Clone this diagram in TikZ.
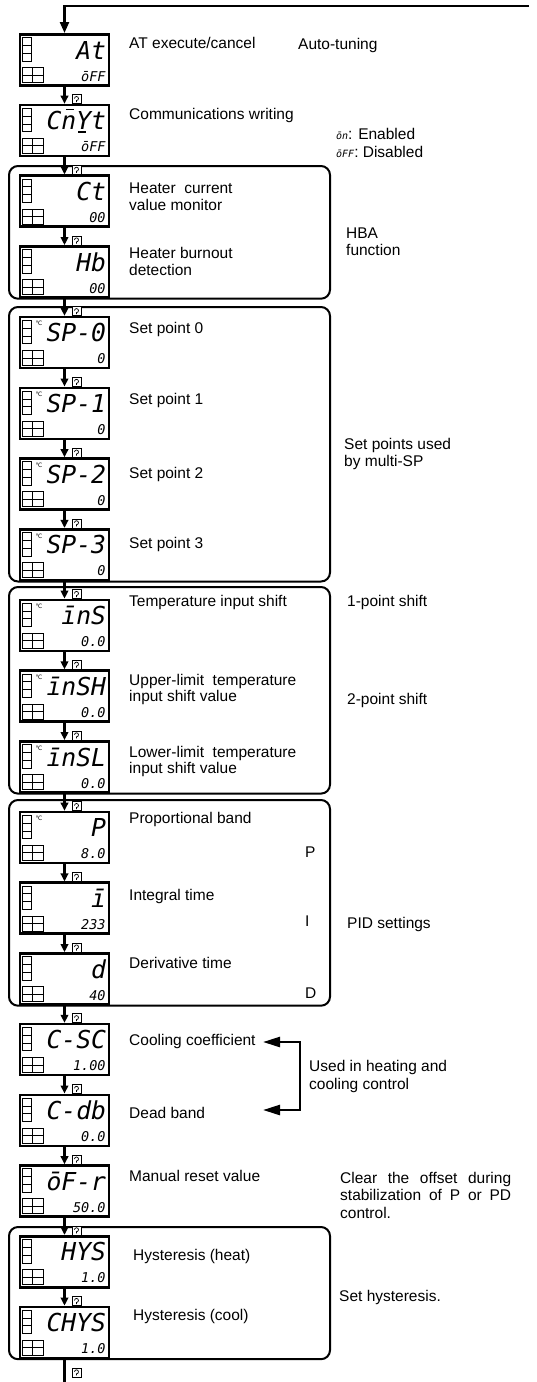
\documentclass[tikz,border=0pt]{standalone}
\usepackage{fontspec}
\setmainfont{Liberation Sans}
\newfontfamily\segfont{DejaVu Sans Mono}
\newfontfamily\symfont{DejaVu Sans}
\usetikzlibrary{arrows.meta}

\newcommand{\notefont}{\fontsize{15.5}{17.5}\selectfont}
% segment bar over or under one display letter: height, shift, letter
\newcommand{\segbar}[3]{\rlap{\hspace{#2}\rule[#1]{8pt}{1.5pt}}#3}

% one controller display: name, placement, upper text, lower text
\newcommand{\lcd}[4]{%
  \node[lcd,#2] (#1) {};
  \foreach \k in {0,1,2}
    \draw[lamp] ([shift={(3.7,-4.7-7.8*\k)}]#1.north west) rectangle ++(9.5,-7.8);
  \foreach \k in {0,1}
    \foreach \j in {0,1}
      \draw[lamp] ([shift={(3.7+10.3*\k,-34.7-7.5*\j)}]#1.north west) rectangle ++(10.3,-7.5);
  \node[segup] at ([shift={(-4,-26)}]#1.north east) {#3};
  \node[seglow] at ([shift={(-4.5,-48)}]#1.north east) {#4};
}
% degree sign on a display
\newcommand{\degc}[1]{\node[degc] at ([shift={(20.2,-8)}]#1.north west) {℃};}
% mode key icon above a display
\newcommand{\modekey}[1]{%
  \draw[keybox] ([shift={(7.5,0)}]#1.north) rectangle ++(9,9);
  \draw[keyloop] ([shift={(10,5.2)}]#1.north) arc (180:-90:2) -- ++(0,-1.6);
}

\begin{document}
\begin{tikzpicture}[x=1pt,y=1pt,node distance=70.7pt,
    lcd/.style={draw,line width=2.6pt,fill=white,minimum width=89pt,
      minimum height=51pt,inner sep=0pt},
    lamp/.style={draw,line width=0.9pt},
    segup/.style={anchor=base east,inner sep=0pt,
      font=\segfont\itshape\fontsize{24.7}{26}\selectfont},
    seglow/.style={anchor=base east,inner sep=0pt,
      font=\segfont\itshape\fontsize{13.5}{15}\selectfont},
    degc/.style={inner sep=0pt,font=\symfont\fontsize{6}{6}\selectfont},
    keybox/.style={draw,line width=0.8pt,fill=white},
    keyloop/.style={line width=0.7pt},
    flow/.style={line width=2.3pt,-{Triangle[length=8pt,width=7.5pt]}},
    flowline/.style={line width=2.3pt},
    grp/.style={line width=2pt,rounded corners=9pt},
    bracket/.style={line width=2.5pt,
      {Triangle[length=17pt,width=10pt]}-{Triangle[length=17pt,width=10pt]}},
    note/.style={anchor=north west,inner sep=0pt,align=left,font=\notefont}]

  \useasboundingbox (0,0) rectangle (537,-1382);

  % groups
  \draw[grp] (9,-166) rectangle (330,-298.7);
  \draw[grp] (9,-307) rectangle (330,-581.5);
  \draw[grp] (9,-587) rectangle (330,-793.6);
  \draw[grp] (9,-800) rectangle (330,-1005.7);
  \draw[grp] (9,-1227) rectangle (330,-1359.2);

  % displays
  \lcd{at}{at={(64.5,-59.8)}}{At}{ōFF}
  \lcd{cmwt}{below of=at}{C\segbar{19.5pt}{5pt}{n}\segbar{-3pt}{2pt}{Y}t}{ōFF}
  \lcd{ct}{below of=cmwt}{Ct}{00}
  \lcd{hb}{below of=ct}{Hb}{00}
  \lcd{spzero}{below of=hb}{SP-0}{0}
  \lcd{spone}{below of=spzero}{SP-1}{0}
  \lcd{sptwo}{below of=spone}{SP-2}{0}
  \lcd{spthree}{below of=sptwo}{SP-3}{0}
  \lcd{ins}{below of=spthree}{īnS}{0.0}
  \lcd{insh}{below of=ins}{īnSH}{0.0}
  \lcd{insl}{below of=insh}{īnSL}{0.0}
  \lcd{pband}{below of=insl}{P}{8.0}
  \lcd{itime}{below of=pband}{ī}{233}
  \lcd{dtime}{below of=itime}{d}{40}
  \lcd{csc}{below of=dtime}{C-SC}{1.00}
  \lcd{cdb}{below of=csc}{C-db}{0.0}
  \lcd{ofr}{below of=cdb}{ōF-r}{50.0}
  \lcd{hys}{below of=ofr}{HYS}{1.0}
  \lcd{chys}{below of=hys}{CHYS}{1.0}

  \foreach \d in {spzero,spone,sptwo,spthree,ins,insh,insl,pband}
    {\degc{\d}}

  % sequence
  \coordinate (back) at (529,-6);
  \draw[flow,-{Triangle[length=11pt,width=9pt]}] (back) -| (at);
  \path (at) edge[flow] (cmwt)
        (cmwt) edge[flow] (ct)
        (ct) edge[flow] (hb)
        (hb) edge[flow] (spzero)
        (spzero) edge[flow] (spone)
        (spone) edge[flow] (sptwo)
        (sptwo) edge[flow] (spthree)
        (spthree) edge[flow] (ins)
        (ins) edge[flow] (insh)
        (insh) edge[flow] (insl)
        (insl) edge[flow] (pband)
        (pband) edge[flow] (itime)
        (itime) edge[flow] (dtime)
        (dtime) edge[flow] (csc)
        (csc) edge[flow] (cdb)
        (cdb) edge[flow] (ofr)
        (ofr) edge[flow] (hys)
        (hys) edge[flow] (chys);
  \coordinate (exit) at (64.5,-1382);
  \draw[flowline] (chys) -- (exit);

  \foreach \d in {cmwt,ct,hb,spzero,spone,sptwo,spthree,ins,insh,insl,
                  pband,itime,dtime,csc,cdb,ofr,hys,chys}
    {\modekey{\d}}
  \coordinate (endkey) at (64.5,-1377);
  \modekey{endkey}

  % parameter names
  \node[note] (lat) at (129,-36.25) {\strut AT execute/cancel};
  \node[note] (lcmwt) at (129,-107.25) {\strut Communications writing};
  \node[note] (lct) at (129,-181) {\strut Heater\ \ current\\value monitor};
  \node[note] (lhb) at (129,-246) {\strut Heater burnout\\detection};
  \node[note] (lspzero) at (129,-321) {\strut Set point 0};
  \node[note] (lspone) at (129,-391.75) {\strut Set point 1};
  \node[note] (lsptwo) at (129,-466) {\strut Set point 2};
  \node[note] (lspthree) at (129,-536) {\strut Set point 3};
  \node[note] (lins) at (129,-594.5) {\strut Temperature input shift};
  \node[note] (linsh) at (129,-672.75) {\strut Upper-limit\ \ temperature\\[-1.5pt]input shift value};
  \node[note] (linsl) at (129,-745) {\strut Lower-limit\ \ temperature\\[-1.5pt]input shift value};
  \node[note] (lpband) at (129,-811) {\strut Proportional band};
  \node[note] (litime) at (129,-887.75) {\strut Integral time};
  \node[note] (ldtime) at (129,-956) {\strut Derivative time};
  \node[note] (lcsc) at (129,-1032.75) {\strut Cooling coefficient};
  \node[note] (lcdb) at (129,-1106) {\strut Dead band};
  \node[note] (lofr) at (129,-1169.5) {\strut Manual reset value};
  \node[note] (lhys) at (133,-1247.75) {\strut Hysteresis (heat)};
  \node[note] (lchys) at (133,-1308.5) {\strut Hysteresis (cool)};

  % remarks
  \node[note] (autotune) at (298,-37.25) {\strut Auto-tuning};
  \node[note] (onoff) at (336,-126.75) {\strut{\segfont\itshape\fontsize{10}{12}\selectfont ōn}: Enabled\\[0.5pt]{\segfont\itshape\fontsize{10}{12}\selectfont ōFF}: Disabled};
  \node[note] (hba) at (346,-226) {\strut HBA\\function};
  \node[note] (multisp) at (344,-437) {\strut Set points used\\by multi-SP};
  \node[note] (onept) at (347,-594.5) {\strut 1-point shift};
  \node[note] (twopt) at (347,-692.25) {\strut 2-point shift};
  \node[note] (pmark) at (305,-845.25) {\strut P};
  \node[note] (imark) at (305,-914.25) {\strut I};
  \node[note] (dmark) at (305,-986.25) {\strut D};
  \node[note] (pid) at (347,-916.25) {\strut PID settings};
  \node[note] (heatcool) at (309,-1059.5) {\strut Used in heating and\\cooling control};
  \node[note,text width=171pt,align=justify] (offset) at (340,-1171)
    {\tolerance=10000\hyphenpenalty=10000\strut Clear the offset during stabilization of P or PD control.};
  \node[note] (sethys) at (339,-1289.5) {\strut Set hysteresis.};

  % heating and cooling bracket
  \coordinate (ccin) at (263,-1042);
  \coordinate (dbin) at (263,-1110);
  \coordinate (brbot) at (300,-1110);
  \draw[bracket] (ccin) -| (brbot) -- (dbin);
\end{tikzpicture}
\end{document}
